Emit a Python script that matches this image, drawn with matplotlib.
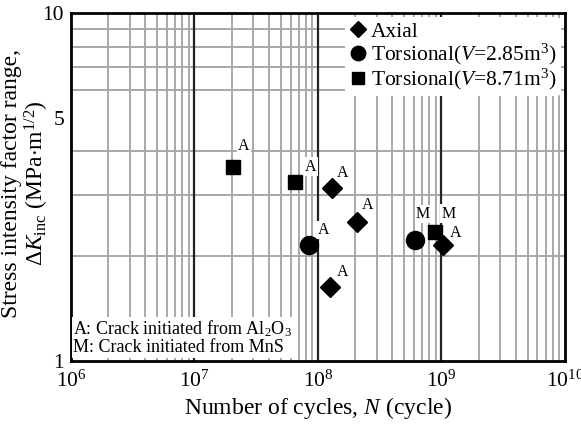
import matplotlib
matplotlib.use("Agg")
import matplotlib.pyplot as plt
from matplotlib.ticker import LogLocator, NullFormatter, FixedLocator, FixedFormatter

plt.rcParams['font.family'] = ['Liberation Serif', 'DejaVu Serif']
plt.rcParams['mathtext.fontset'] = 'custom'
plt.rcParams['mathtext.rm'] = 'Liberation Serif'
plt.rcParams['mathtext.it'] = 'Liberation Serif:italic'

# data
axial_N = [1.29e8, 2.07e8, 1.26e8, 1.03e9]
axial_K = [3.14, 2.51, 1.63, 2.16]
axial_lab = ['A', 'A', 'A', 'A']

tors1_N = [8.5e7, 6.1e8]
tors1_K = [2.15, 2.22]
tors1_lab = ['A', 'M']

tors2_N = [2.05e7, 6.56e7, 8.8e8]
tors2_K = [3.61, 3.27, 2.35]
tors2_lab = ['A', 'A', 'M']

# label offsets (points)
axial_off = [(8, 11), (8, 12), (9, 11), (9, 8)]
tors1_off = [(10, 11), (6, 19)]
tors2_off = [(8, 15), (11, 11), (10, 13)]

fig = plt.figure(figsize=(5.81, 4.32), dpi=100)
ax = fig.add_axes([0.1222, 0.1644, 0.850, 0.8056])
ax.set_xscale('log')
ax.set_yscale('log')
ax.set_xlim(1e6, 1e10)
ax.set_ylim(1, 10)

ax.xaxis.set_major_locator(FixedLocator([1e6, 1e7, 1e8, 1e9, 1e10]))
ax.xaxis.set_minor_locator(LogLocator(base=10, subs=range(2, 10)))
ax.xaxis.set_minor_formatter(NullFormatter())
ax.yaxis.set_major_locator(FixedLocator([1, 5, 10]))
ax.yaxis.set_major_formatter(FixedFormatter(['1', '5', '10']))
ax.yaxis.set_minor_locator(FixedLocator([2, 3, 4, 6, 7, 8, 9]))
ax.yaxis.set_minor_formatter(NullFormatter())
ax.tick_params(which='both', length=0, labelsize=15.5)
ax.tick_params(axis='x', pad=7)
ax.tick_params(axis='y', pad=5)

for t in [1e7, 1e8, 1e9]:
    ax.axvline(t, color='#222222', lw=1.6, zorder=1)
ax.grid(True, which='minor', axis='x', color='#a8a8a8', lw=1.4, zorder=0)
ax.grid(True, which='minor', axis='y', color='#a8a8a8', lw=1.4, zorder=0)
ax.grid(False, which='major')
ax.set_axisbelow(True)
for s in ax.spines.values():
    s.set_linewidth(2)

ax.plot(axial_N, axial_K, 'D', color='black', ms=10, ls='none', label='Axial', zorder=4)
ax.plot(tors1_N, tors1_K, 'o', color='black', ms=13, ls='none',
        label='Torsional($V$=2.85m$^3$)', zorder=4)
ax.plot(tors2_N, tors2_K, 's', color='black', ms=10, ls='none',
        label='Torsional($V$=8.71m$^3$)', zorder=4)

box = dict(facecolor='white', edgecolor='none', pad=1)
for Ns, Ks, labs, offs in [(axial_N, axial_K, axial_lab, axial_off),
                           (tors1_N, tors1_K, tors1_lab, tors1_off),
                           (tors2_N, tors2_K, tors2_lab, tors2_off)]:
    for n, k, lab, off in zip(Ns, Ks, labs, offs):
        ax.annotate(lab, (n, k), xytext=off, textcoords='offset points',
                    ha='center', va='center', fontsize=11.5, bbox=box, zorder=3)

leg = ax.legend(loc='upper right', frameon=True, fontsize=15.5, handletextpad=0.2,
                handlelength=0.8, borderaxespad=0.2, labelspacing=0.0,
                borderpad=0.2, markerscale=0.8)
leg.get_frame().set_edgecolor('none')
leg.get_frame().set_facecolor('white')
leg.get_frame().set_alpha(1)

ax.text(0.004, 0.013, 'A: Crack initiated from Al$_2$O$_3$\nM: Crack initiated from MnS',
        transform=ax.transAxes, fontsize=13, va='bottom', ha='left', linespacing=1.0,
        bbox=dict(facecolor='white', edgecolor='none', pad=1), zorder=3)

ax.set_xlabel('Number of cycles, $N$ (cycle)', fontsize=17, labelpad=2)
ax.set_ylabel('Stress intensity factor range,\n$\\Delta K_{\\rm inc}$ (MPa$\\cdot$m$^{1/2}$)',
              fontsize=17, linespacing=1.05)
ax.yaxis.set_label_coords(-0.04, 0.51)

fig.savefig('out.png', dpi=100)
